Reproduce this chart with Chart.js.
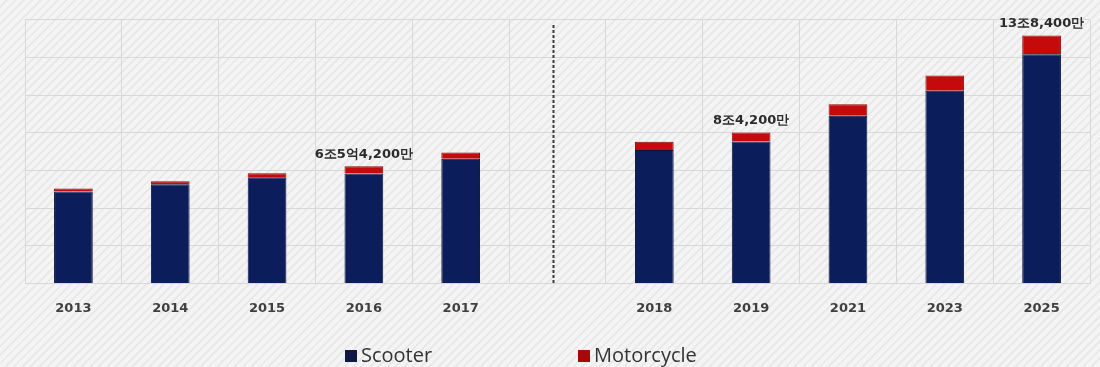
<!DOCTYPE html>
<html lang="ko">
<head>
<meta charset="utf-8">
<title>Scooter / Motorcycle</title>
<script src="https://cdn.jsdelivr.net/npm/chart.js@4"></script>
<style>
  html, body {
    margin: 0;
    padding: 0;
    width: 1100px;
    height: 367px;
    overflow: hidden;
    background-color: #f4f4f4;
    background-image: repeating-linear-gradient(135deg, #f4f4f4 0px, #f4f4f4 4px, #e9e9e9 4px, #e9e9e9 6px);
  }
  #wrap { position: relative; width: 1100px; height: 367px; }
  #legend {
    position: absolute;
    top: 343px;
    left: 0;
    width: 1100px;
    height: 24px;
    font-family: "Open Sans", sans-serif;
    font-size: 20px;
    color: #333333;
  }
  #legend .item { position: absolute; top: 0; white-space: nowrap; line-height: 24px; }
  #legend .box { display: inline-block; width: 12px; height: 12px; margin-right: 4px; vertical-align: 0px; }
</style>
</head>
<body>
<div id="wrap">
  <canvas id="marketChart"></canvas>
  <div id="legend"></div>
</div>
<script>
// 연도 (빈 칸은 실적/전망 구분용)
const years = ['2013', '2014', '2015', '2016', '2017', '', '2018', '2019', '2021', '2023', '2025'];
const scooter = [5.13, 5.53, 5.93, 6.14, 6.95, null, 7.45, 7.92, 9.35, 10.75, 12.79];
const motorcycle = [0.17, 0.17, 0.22, 0.40, 0.35, null, 0.45, 0.50, 0.65, 0.85, 1.05];
const totalLabels = ['', '', '', '6조5억4,200만', '', '', '', '8조4,200만', '', '', '13조8,400만'];
const gapIndex = 5;

const seriesNames = ['Scooter', 'Motorcycle'];
const legendColors = ['#0f1842', '#a80808'];
const legendLeft = [345, 578];

// 막대 위 합계 라벨 + 구분 점선
const overlayPlugin = {
  id: 'overlay',
  afterDatasetsDraw(chart) {
    const { ctx, chartArea, scales: { x, y } } = chart;
    ctx.save();
    // 점선
    const gx = x.getPixelForValue(gapIndex) - 4;
    ctx.strokeStyle = '#3a3a3a';
    ctx.lineWidth = 2;
    ctx.setLineDash([3, 2]);
    ctx.beginPath();
    ctx.moveTo(gx, chartArea.top + 5);
    ctx.lineTo(gx, chartArea.bottom);
    ctx.stroke();
    ctx.setLineDash([]);

    // 합계 라벨
    ctx.font = 'bold 13px "DejaVu Sans", sans-serif';
    ctx.fillStyle = '#2b2b2b';
    ctx.textAlign = 'center';
    ctx.textBaseline = 'bottom';
    totalLabels.forEach((txt, i) => {
      if (!txt) return;
      const total = (scooter[i] || 0) + (motorcycle[i] || 0);
      ctx.fillText(txt, x.getPixelForValue(i), y.getPixelForValue(total) - 5);
    });
    ctx.restore();
  }
};

const chart = new Chart(document.getElementById('marketChart'), {
  type: 'bar',
  data: {
    labels: years,
    datasets: [
      {
        label: seriesNames[0],
        data: scooter,
        backgroundColor: '#0c1d5c',
        borderColor: '#0a1238',
        borderWidth: 1,
        barPercentage: 0.4,
        categoryPercentage: 1
      },
      {
        label: seriesNames[1],
        data: motorcycle,
        backgroundColor: '#c40a0a',
        borderColor: '#8a0a0a',
        borderWidth: 1,
        barPercentage: 0.4,
        categoryPercentage: 1
      }
    ]
  },
  options: {
    responsive: true,
    maintainAspectRatio: false,
    animation: false,
    layout: { padding: { left: 25, right: 10, top: 20, bottom: 34 } },
    plugins: {
      tooltip: { enabled: false },
      legend: { display: false }
    },
    scales: {
      x: {
        stacked: true,
        grid: { color: '#d8d8d8', lineWidth: 1, drawTicks: false },
        border: { display: true, color: '#d8d8d8' },
        ticks: {
          color: '#404040',
          padding: 17,
          font: { family: '"DejaVu Sans", sans-serif', size: 13, weight: 'bold' }
        }
      },
      y: {
        stacked: true,
        min: 0,
        max: 14.7,
        afterBuildTicks(axis) {
          axis.ticks = [0, 1, 2, 3, 4, 5, 6, 7].map(k => ({ value: k * 2.1 }));
        },
        grid: { color: '#d8d8d8', lineWidth: 1, drawTicks: false },
        border: { display: false },
        ticks: { display: false }
      }
    }
  },
  plugins: [overlayPlugin]
});

// 범례
const legend = document.getElementById('legend');
chart.data.datasets.forEach((ds, i) => {
  const item = document.createElement('div');
  item.className = 'item';
  item.style.left = legendLeft[i] + 'px';
  item.innerHTML = `<span class="box" style="background:${legendColors[i]}"></span>${ds.label}`;
  legend.appendChild(item);
});
</script>
</body>
</html>
